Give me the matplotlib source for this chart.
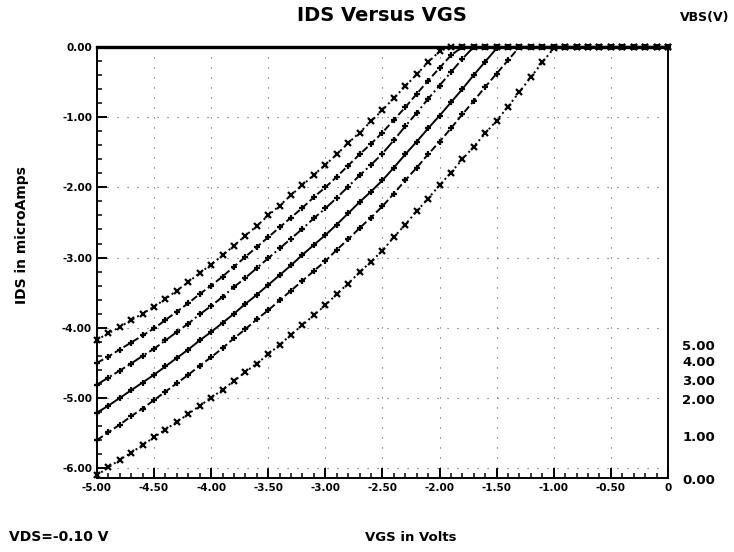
import numpy as np
import matplotlib
matplotlib.use("Agg")
import matplotlib.pyplot as plt
from matplotlib.ticker import MultipleLocator, FixedLocator

# barrido de VGS (V), un punto cada 0.1 V
vgs = np.linspace(-5.0, 0.0, 51)

# IDS (microAmps), una curva por VBS
ids_vbs5 = [-4.17, -4.08, -3.99, -3.89, -3.80, -3.70, -3.59, -3.47, -3.35, -3.22,
            -3.10, -2.97, -2.83, -2.69, -2.55, -2.40, -2.26, -2.11, -1.97, -1.82,
            -1.68, -1.53, -1.37, -1.22, -1.06, -0.90, -0.73, -0.56, -0.39, -0.22,
            -0.06] + [0.0] * 20
ids_vbs4 = [-4.50, -4.41, -4.31, -4.21, -4.11, -4.01, -3.89, -3.77, -3.65, -3.52,
            -3.40, -3.27, -3.13, -2.99, -2.85, -2.71, -2.57, -2.43, -2.29, -2.14,
            -2.00, -1.85, -1.69, -1.53, -1.38, -1.22, -1.04, -0.86, -0.67, -0.48,
            -0.30, -0.12] + [0.0] * 19
ids_vbs3 = [-4.81, -4.71, -4.61, -4.51, -4.40, -4.30, -4.18, -4.06, -3.94, -3.81,
            -3.69, -3.56, -3.42, -3.29, -3.15, -3.01, -2.87, -2.73, -2.59, -2.44,
            -2.30, -2.15, -1.99, -1.83, -1.68, -1.52, -1.33, -1.13, -0.94, -0.74,
            -0.55, -0.36, -0.17] + [0.0] * 18
ids_vbs2 = [-5.21, -5.11, -5.00, -4.89, -4.78, -4.67, -4.55, -4.43, -4.31, -4.18,
            -4.06, -3.93, -3.80, -3.66, -3.53, -3.39, -3.25, -3.11, -2.96, -2.82,
            -2.68, -2.53, -2.37, -2.21, -2.06, -1.90, -1.72, -1.53, -1.35, -1.16,
            -0.98, -0.79, -0.60, -0.40, -0.21, -0.02] + [0.0] * 15
ids_vbs1 = [-5.60, -5.49, -5.38, -5.26, -5.15, -5.03, -4.91, -4.79, -4.67, -4.54,
            -4.42, -4.29, -4.15, -4.02, -3.88, -3.75, -3.61, -3.47, -3.33, -3.19,
            -3.05, -2.89, -2.74, -2.58, -2.43, -2.27, -2.09, -1.90, -1.72, -1.53,
            -1.35, -1.16, -0.96, -0.77, -0.57, -0.38, -0.19] + [0.0] * 14
ids_vbs0 = [-6.10, -5.99, -5.88, -5.78, -5.67, -5.56, -5.45, -5.34, -5.23, -5.11,
            -5.00, -4.88, -4.76, -4.63, -4.51, -4.38, -4.24, -4.10, -3.96, -3.82,
            -3.68, -3.52, -3.37, -3.21, -3.06, -2.90, -2.71, -2.53, -2.34, -2.16,
            -1.97, -1.79, -1.60, -1.42, -1.23, -1.05, -0.85, -0.64, -0.43, -0.22,
            -0.02] + [0.0] * 10

curvas = [ids_vbs5, ids_vbs4, ids_vbs3, ids_vbs2, ids_vbs1, ids_vbs0]
vbs_etiquetas = ['5.00', '4.00', '3.00', '2.00', '1.00', '0.00']
vbs_pos_y = [-4.26, -4.49, -4.76, -5.03, -5.56, -6.17]

x_ticks = [-5.0, -4.5, -4.0, -3.5, -3.0, -2.5, -2.0, -1.5, -1.0, -0.5, 0.0]
x_labels = ['-5.00', '-4.50', '-4.00', '-3.50', '-3.00', '-2.50', '-2.00',
            '-1.50', '-1.00', '-0.50', '0']
y_ticks = [0.0, -1.0, -2.0, -3.0, -4.0, -5.0, -6.0]
y_labels = ['0.00', '-1.00', '-2.00', '-3.00', '-4.00', '-5.00', '-6.00']

fig = plt.figure(figsize=(7.34, 5.52), dpi=100)
ax = fig.add_axes([0.132, 0.134, 0.778, 0.781])

estilos = [(':', 'x'), ('--', '+'), ('-.', '+'), ('-', '+'), ('--', '+'), (':', 'x')]
for datos, (ls, mk) in zip(curvas, estilos):
    ax.plot(vgs, datos, color='black', linestyle=ls, linewidth=1.4,
            marker=mk, markersize=5, markeredgewidth=1.6, clip_on=False)

ax.set_xlim(-5.0, 0.0)
ax.set_ylim(-6.14, 0.0)

ax.xaxis.set_major_locator(FixedLocator(x_ticks))
ax.set_xticklabels(x_labels)
ax.xaxis.set_minor_locator(MultipleLocator(0.1))
ax.yaxis.set_major_locator(FixedLocator(y_ticks))
ax.set_yticklabels(y_labels)
ax.yaxis.set_minor_locator(MultipleLocator(0.2))

ax.tick_params(axis='both', which='major', direction='in', length=7, width=1.4,
               labelsize=7.5)
ax.tick_params(axis='both', which='minor', direction='in', length=3.5, width=1.1)
ax.tick_params(top=False, right=False, which='both')
for lab in ax.get_xticklabels() + ax.get_yticklabels():
    lab.set_fontweight('bold')

ax.grid(True, which='major', color='0.35', linestyle=(0, (1, 8)), linewidth=0.8)

for lado in ['left', 'bottom', 'right']:
    ax.spines[lado].set_linewidth(1.4)
ax.spines['top'].set_linewidth(2.4)
ax.spines['right'].set_linestyle((0, (4, 1)))

# etiquetas de VBS a la derecha
for etiqueta, yv in zip(vbs_etiquetas, vbs_pos_y):
    ax.text(1.025, yv, etiqueta, transform=ax.get_yaxis_transform(),
            ha='left', va='center', fontsize=9.5, fontweight='bold')

fig.text(0.52, 0.972, 'IDS Versus VGS', ha='center', va='center',
         fontsize=14, fontweight='bold')
fig.text(0.96, 0.968, 'VBS(V)', ha='center', va='center', fontsize=9,
         fontweight='bold')
fig.text(0.03, 0.575, 'IDS in microAmps', rotation=90, ha='center', va='center',
         fontsize=10, fontweight='bold')
fig.text(0.56, 0.027, 'VGS in Volts', ha='center', va='center', fontsize=9.5,
         fontweight='bold')
fig.text(0.012, 0.027, 'VDS=-0.10 V', ha='left', va='center', fontsize=10,
         fontweight='bold')

fig.savefig('out.png', dpi=100)
